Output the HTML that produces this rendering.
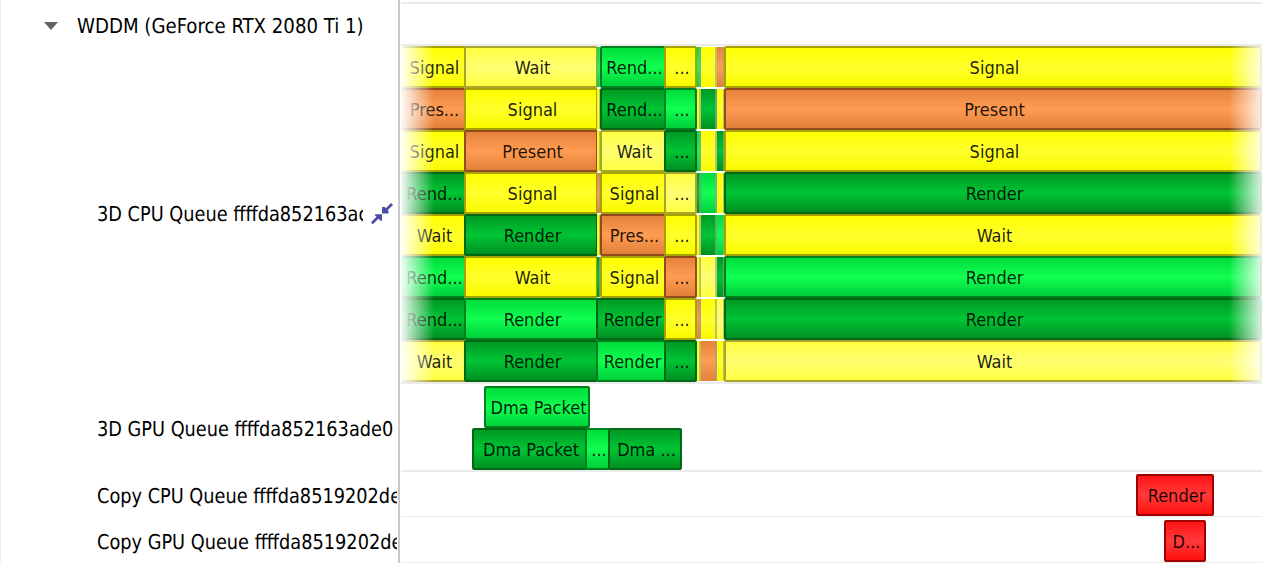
<!DOCTYPE html>
<html><head><meta charset="utf-8"><style>
html,body{margin:0;padding:0}
body{width:1263px;height:563px;overflow:hidden;background:#fff;position:relative;font-family:"DejaVu Sans Condensed","Liberation Sans",sans-serif}
.lbl{position:absolute;text-rendering:geometricPrecision;font-size:20.5px;line-height:24px;height:26px;color:#000;white-space:nowrap;overflow:hidden}
.lbl span{display:inline-block;transform-origin:0 0;transform:scaleX(0.962)}
.tri{position:absolute;left:44px;top:22px;width:0;height:0;border-left:7px solid transparent;border-right:7px solid transparent;border-top:8px solid #646464}
.split{position:absolute;left:398px;top:0;width:2px;height:563px;background:#c9c9c9}
.rp{position:absolute;left:401px;top:0;width:861px;height:563px;overflow:hidden}
.hl{position:absolute;left:0;width:861px;height:2px;background:#ebebeb}
.b{position:absolute;box-sizing:border-box;border:2px solid;border-radius:2px;overflow:hidden}
.b span{position:absolute;left:0;right:0;top:0;text-align:center;font-size:18px;line-height:40.5px;color:rgba(0,0,0,.88);white-space:nowrap;padding-left:3px}
.rp i{position:absolute;height:40px;display:block;box-sizing:border-box;border-right:0 solid rgba(150,165,150,.65)}
.fl{position:absolute;left:0;top:46px;width:33px;height:336px;background:linear-gradient(to right,rgba(255,255,255,.95),rgba(255,255,255,0))}
.fr{position:absolute;left:828px;top:46px;width:33px;height:336px;background:linear-gradient(to left,rgba(255,255,255,.86),rgba(255,255,255,0))}
</style></head><body>
<div class="tri"></div>
<div class="lbl" style="left:77px;top:14px;width:300px"><span style="transform:scaleX(0.984)">WDDM (GeForce RTX 2080 Ti 1)</span></div>
<div class="lbl" style="left:97px;top:202px;width:266px"><span>3D CPU Queue ffffda852163ac</span></div>
<svg style="position:absolute;left:366px;top:198px" width="32" height="32" viewBox="0 0 563 563"><g fill="#4a4aa8"><path d="M283 160 L330 160 L405 245 L385 272 L283 272 Z"/><path d="M440 88 L475 122 L345 252 L310 218 Z"/><path d="M280 287 L280 400 L255 400 L160 305 L160 287 Z"/><path d="M120 460 L88 428 L215 300 L248 333 Z"/></g></svg>
<div class="lbl" style="left:97px;top:417px;width:300px"><span>3D GPU Queue ffffda852163ade0</span></div>
<div class="lbl" style="left:97px;top:484px;width:300px"><span>Copy CPU Queue ffffda8519202de</span></div>
<div class="lbl" style="left:97px;top:530px;width:300px"><span>Copy GPU Queue ffffda8519202de</span></div>
<div class="split"></div>
<div style="position:absolute;left:0;top:0;width:1px;height:563px;background:#f0f0f0"></div>
<div class="rp">
<div class="hl" style="top:2px"></div>
<div class="hl" style="top:44px"></div>
<div class="hl" style="top:382px"></div>
<div class="hl" style="top:470px"></div>
<div class="hl" style="top:516px;height:1px"></div>
<div class="hl" style="top:562px;height:1px"></div>
<div class="b" style="left:-21px;top:46px;width:86px;height:42px;border-color:#a6a200;background:linear-gradient(#ffff00,#ffff2c 50%,#fafa00)"><span style="left:18px;width:63px">Signal</span></div>
<div class="b" style="left:63px;top:46px;width:134px;height:42px;border-color:#a8a42c;background:linear-gradient(#ffff40,#ffff74 50%,#ffff40)"><span>Wait</span></div>
<i style="left:196px;top:47px;width:3px;border-right-width:1px;background:linear-gradient(#00dc3c,#10ff50 50%,#00d03c)"></i>
<div class="b" style="left:199px;top:46px;width:66px;height:42px;border-color:#00801c;background:linear-gradient(#00dc3c,#10ff50 50%,#00d03c)"><span>Rend...</span></div>
<div class="b" style="left:263px;top:46px;width:33px;height:42px;border-color:#a6a200;background:linear-gradient(#ffff00,#ffff2c 50%,#fafa00)"><span>...</span></div>
<i style="left:296px;top:47px;width:4px;border-right-width:2px;background:linear-gradient(#00dc3c,#10ff50 50%,#00d03c)"></i>
<i style="left:300px;top:47px;width:16px;border-right-width:2px;background:linear-gradient(#ffff00,#ffff2c 50%,#fafa00)"></i>
<i style="left:316px;top:47px;width:7px;border-right-width:1px;background:linear-gradient(#e6823a,#ff9c52 50%,#e2803a)"></i>
<div class="b" style="left:323px;top:46px;width:538px;height:42px;border-color:#a6a200;background:linear-gradient(#ffff00,#ffff2c 50%,#fafa00)"><span>Signal</span></div>
<div class="b" style="left:-21px;top:88px;width:86px;height:42px;border-color:#904a1e;background:linear-gradient(#e6823a,#ff9c52 50%,#e2803a)"><span style="left:18px;width:63px">Pres...</span></div>
<div class="b" style="left:63px;top:88px;width:134px;height:42px;border-color:#a6a200;background:linear-gradient(#ffff00,#ffff2c 50%,#fafa00)"><span>Signal</span></div>
<i style="left:196px;top:89px;width:3px;border-right-width:1px;background:linear-gradient(#ffff00,#ffff2c 50%,#fafa00)"></i>
<div class="b" style="left:199px;top:88px;width:66px;height:42px;border-color:#006814;background:linear-gradient(#009a24,#00c434 50%,#009022)"><span>Rend...</span></div>
<div class="b" style="left:263px;top:88px;width:33px;height:42px;border-color:#00801c;background:linear-gradient(#00dc3c,#10ff50 50%,#00d03c)"><span>...</span></div>
<i style="left:296px;top:89px;width:4px;border-right-width:2px;background:linear-gradient(#ffff00,#ffff2c 50%,#fafa00)"></i>
<i style="left:300px;top:89px;width:16px;border-right-width:2px;background:linear-gradient(#009a24,#00c434 50%,#009022)"></i>
<i style="left:316px;top:89px;width:7px;border-right-width:1px;background:linear-gradient(#ffff00,#ffff2c 50%,#fafa00)"></i>
<div class="b" style="left:323px;top:88px;width:538px;height:42px;border-color:#904a1e;background:linear-gradient(#e6823a,#ff9c52 50%,#e2803a)"><span>Present</span></div>
<div class="b" style="left:-21px;top:130px;width:86px;height:42px;border-color:#a6a200;background:linear-gradient(#ffff00,#ffff2c 50%,#fafa00)"><span style="left:18px;width:63px">Signal</span></div>
<div class="b" style="left:63px;top:130px;width:134px;height:42px;border-color:#904a1e;background:linear-gradient(#e6823a,#ff9c52 50%,#e2803a)"><span>Present</span></div>
<i style="left:196px;top:131px;width:3px;border-right-width:1px;background:linear-gradient(#ffff00,#ffff2c 50%,#fafa00)"></i>
<div class="b" style="left:199px;top:130px;width:66px;height:42px;border-color:#a8a42c;background:linear-gradient(#ffff40,#ffff74 50%,#ffff40)"><span>Wait</span></div>
<div class="b" style="left:263px;top:130px;width:33px;height:42px;border-color:#006814;background:linear-gradient(#009a24,#00c434 50%,#009022)"><span>...</span></div>
<i style="left:296px;top:131px;width:4px;border-right-width:2px;background:linear-gradient(#00dc3c,#10ff50 50%,#00d03c)"></i>
<i style="left:300px;top:131px;width:16px;border-right-width:2px;background:linear-gradient(#ffff00,#ffff2c 50%,#fafa00)"></i>
<i style="left:316px;top:131px;width:7px;border-right-width:1px;background:linear-gradient(#009a24,#00c434 50%,#009022)"></i>
<div class="b" style="left:323px;top:130px;width:538px;height:42px;border-color:#a6a200;background:linear-gradient(#ffff00,#ffff2c 50%,#fafa00)"><span>Signal</span></div>
<div class="b" style="left:-21px;top:172px;width:86px;height:42px;border-color:#006814;background:linear-gradient(#009a24,#00c434 50%,#009022)"><span style="left:18px;width:63px">Rend...</span></div>
<div class="b" style="left:63px;top:172px;width:134px;height:42px;border-color:#a6a200;background:linear-gradient(#ffff00,#ffff2c 50%,#fafa00)"><span>Signal</span></div>
<i style="left:196px;top:173px;width:3px;border-right-width:1px;background:linear-gradient(#e6823a,#ff9c52 50%,#e2803a)"></i>
<div class="b" style="left:199px;top:172px;width:66px;height:42px;border-color:#a6a200;background:linear-gradient(#ffff00,#ffff2c 50%,#fafa00)"><span>Signal</span></div>
<div class="b" style="left:263px;top:172px;width:33px;height:42px;border-color:#a8a42c;background:linear-gradient(#ffff40,#ffff74 50%,#ffff40)"><span>...</span></div>
<i style="left:296px;top:173px;width:4px;border-right-width:2px;background:linear-gradient(#009a24,#00c434 50%,#009022)"></i>
<i style="left:300px;top:173px;width:16px;border-right-width:2px;background:linear-gradient(#00dc3c,#10ff50 50%,#00d03c)"></i>
<i style="left:316px;top:173px;width:7px;border-right-width:1px;background:linear-gradient(#ffff00,#ffff2c 50%,#fafa00)"></i>
<div class="b" style="left:323px;top:172px;width:538px;height:42px;border-color:#006814;background:linear-gradient(#009a24,#00c434 50%,#009022)"><span>Render</span></div>
<div class="b" style="left:-21px;top:214px;width:86px;height:42px;border-color:#a6a200;background:linear-gradient(#ffff00,#ffff2c 50%,#fafa00)"><span style="left:18px;width:63px">Wait</span></div>
<div class="b" style="left:63px;top:214px;width:134px;height:42px;border-color:#006814;background:linear-gradient(#009a24,#00c434 50%,#009022)"><span>Render</span></div>
<i style="left:196px;top:215px;width:3px;border-right-width:1px;background:linear-gradient(#ffff00,#ffff2c 50%,#fafa00)"></i>
<div class="b" style="left:199px;top:214px;width:66px;height:42px;border-color:#904a1e;background:linear-gradient(#e6823a,#ff9c52 50%,#e2803a)"><span>Pres...</span></div>
<div class="b" style="left:263px;top:214px;width:33px;height:42px;border-color:#a6a200;background:linear-gradient(#ffff00,#ffff2c 50%,#fafa00)"><span>...</span></div>
<i style="left:296px;top:215px;width:4px;border-right-width:2px;background:linear-gradient(#ffff00,#ffff2c 50%,#fafa00)"></i>
<i style="left:300px;top:215px;width:16px;border-right-width:2px;background:linear-gradient(#009a24,#00c434 50%,#009022)"></i>
<i style="left:316px;top:215px;width:7px;border-right-width:1px;background:linear-gradient(#00dc3c,#10ff50 50%,#00d03c)"></i>
<div class="b" style="left:323px;top:214px;width:538px;height:42px;border-color:#a6a200;background:linear-gradient(#ffff00,#ffff2c 50%,#fafa00)"><span>Wait</span></div>
<div class="b" style="left:-21px;top:256px;width:86px;height:42px;border-color:#00801c;background:linear-gradient(#00dc3c,#10ff50 50%,#00d03c)"><span style="left:18px;width:63px">Rend...</span></div>
<div class="b" style="left:63px;top:256px;width:134px;height:42px;border-color:#a6a200;background:linear-gradient(#ffff00,#ffff2c 50%,#fafa00)"><span>Wait</span></div>
<i style="left:196px;top:257px;width:3px;border-right-width:1px;background:linear-gradient(#009a24,#00c434 50%,#009022)"></i>
<div class="b" style="left:199px;top:256px;width:66px;height:42px;border-color:#a6a200;background:linear-gradient(#ffff00,#ffff2c 50%,#fafa00)"><span>Signal</span></div>
<div class="b" style="left:263px;top:256px;width:33px;height:42px;border-color:#904a1e;background:linear-gradient(#e6823a,#ff9c52 50%,#e2803a)"><span>...</span></div>
<i style="left:296px;top:257px;width:4px;border-right-width:2px;background:linear-gradient(#ffff00,#ffff2c 50%,#fafa00)"></i>
<i style="left:300px;top:257px;width:16px;border-right-width:2px;background:linear-gradient(#ffff40,#ffff74 50%,#ffff40)"></i>
<i style="left:316px;top:257px;width:7px;border-right-width:1px;background:linear-gradient(#009a24,#00c434 50%,#009022)"></i>
<div class="b" style="left:323px;top:256px;width:538px;height:42px;border-color:#00801c;background:linear-gradient(#00dc3c,#10ff50 50%,#00d03c)"><span>Render</span></div>
<div class="b" style="left:-21px;top:298px;width:86px;height:42px;border-color:#006814;background:linear-gradient(#009a24,#00c434 50%,#009022)"><span style="left:18px;width:63px">Rend...</span></div>
<div class="b" style="left:63px;top:298px;width:134px;height:42px;border-color:#00801c;background:linear-gradient(#00dc3c,#10ff50 50%,#00d03c)"><span>Render</span></div>
<div class="b" style="left:195px;top:298px;width:70px;height:42px;border-color:#006814;background:linear-gradient(#009a24,#00c434 50%,#009022)"><span>Render</span></div>
<div class="b" style="left:263px;top:298px;width:33px;height:42px;border-color:#a6a200;background:linear-gradient(#ffff00,#ffff2c 50%,#fafa00)"><span>...</span></div>
<i style="left:296px;top:299px;width:4px;border-right-width:2px;background:linear-gradient(#e6823a,#ff9c52 50%,#e2803a)"></i>
<i style="left:300px;top:299px;width:16px;border-right-width:2px;background:linear-gradient(#ffff00,#ffff2c 50%,#fafa00)"></i>
<i style="left:316px;top:299px;width:7px;border-right-width:1px;background:linear-gradient(#ffff40,#ffff74 50%,#ffff40)"></i>
<div class="b" style="left:323px;top:298px;width:538px;height:42px;border-color:#006814;background:linear-gradient(#009a24,#00c434 50%,#009022)"><span>Render</span></div>
<div class="b" style="left:-21px;top:340px;width:86px;height:42px;border-color:#a8a42c;background:linear-gradient(#ffff40,#ffff74 50%,#ffff40)"><span style="left:18px;width:63px">Wait</span></div>
<div class="b" style="left:63px;top:340px;width:134px;height:42px;border-color:#006814;background:linear-gradient(#009a24,#00c434 50%,#009022)"><span>Render</span></div>
<div class="b" style="left:195px;top:340px;width:70px;height:42px;border-color:#00801c;background:linear-gradient(#00dc3c,#10ff50 50%,#00d03c)"><span>Render</span></div>
<div class="b" style="left:263px;top:340px;width:33px;height:42px;border-color:#006814;background:linear-gradient(#009a24,#00c434 50%,#009022)"><span>...</span></div>
<i style="left:296px;top:341px;width:4px;border-right-width:2px;background:linear-gradient(#ffff00,#ffff2c 50%,#fafa00)"></i>
<i style="left:300px;top:341px;width:16px;border-right-width:2px;background:linear-gradient(#e6823a,#ff9c52 50%,#e2803a)"></i>
<i style="left:316px;top:341px;width:7px;border-right-width:1px;background:linear-gradient(#ffff00,#ffff2c 50%,#fafa00)"></i>
<div class="b" style="left:323px;top:340px;width:538px;height:42px;border-color:#a8a42c;background:linear-gradient(#ffff40,#ffff74 50%,#ffff40)"><span>Wait</span></div>
<div class="b" style="left:83px;top:386px;width:106px;height:42px;border-color:#00801c;background:linear-gradient(#00dc3c,#10ff50 50%,#00d03c)"><span>Dma Packet</span></div>
<div class="b" style="left:71px;top:428px;width:115px;height:42px;border-color:#006814;background:linear-gradient(#009a24,#00c434 50%,#009022)"><span>Dma Packet</span></div>
<div class="b" style="left:184px;top:428px;width:25px;height:42px;border-color:#00801c;background:linear-gradient(#00dc3c,#10ff50 50%,#00d03c)"><span>...</span></div>
<div class="b" style="left:207px;top:428px;width:74px;height:42px;border-color:#006814;background:linear-gradient(#009a24,#00c434 50%,#009022)"><span>Dma ...</span></div>
<div class="b" style="left:735px;top:474px;width:78px;height:42px;border-color:#a00000;background:linear-gradient(#ff1414,#ff3a3a 50%,#ff1010)"><span>Render</span></div>
<div class="b" style="left:763px;top:520px;width:42px;height:42px;border-color:#a00000;background:linear-gradient(#ff1414,#ff3a3a 50%,#ff1010)"><span>D...</span></div>
<div class="fl"></div>
<div class="fr"></div>
</div>
</body></html>
